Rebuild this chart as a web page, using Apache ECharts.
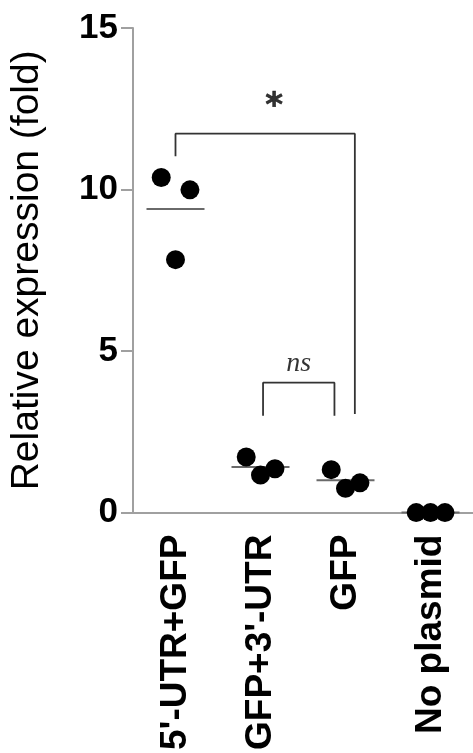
<!DOCTYPE html>
<html>
<head>
<meta charset="utf-8">
<script src="https://cdn.jsdelivr.net/npm/echarts@6/dist/echarts.min.js"></script>
<style>
  html, body { margin: 0; padding: 0; background: #fff; }
  #chart { width: 473px; height: 753px; }
</style>
</head>
<body>
<div id="chart"></div>
<script>
// Groups on the x axis
const categories = ["5'-UTR+GFP", "GFP+3'-UTR", "GFP", "No plasmid"];

// Replicate measurements per group (left, middle, right dot)
const utr5Gfp   = [10.37, 7.83, 9.99];
const gfpUtr3   = [1.72, 1.16, 1.36];
const gfpOnly   = [1.33, 0.75, 0.92];
const noPlasmid = [0.0, 0.0, 0.0];
const groupValues = [utr5Gfp, gfpUtr3, gfpOnly, noPlasmid];

// Y axis ticks
const yTicks = [0, 5, 10, 15];

// Horizontal spread of the replicate dots inside each group
const dotSpread = [-0.168, 0, 0.17];

// Significance brackets
const brackets = [
  { from: 0, to: 2.11, top: 11.73, footL: 11.03, footR: 3.05, text: '*', tx: 1.16, ty: 12.55 },
  { from: 1.03, to: 1.87, top: 4.02, footL: 3.0, footR: 3.0, text: 'ns', tx: 1.45, ty: 4.62 }
];

const FONT = "'Liberation Sans', Arial, Helvetica, sans-serif";

const dots = [];
const means = [];
groupValues.forEach((vals, g) => {
  vals.forEach((v, i) => dots.push([g + dotSpread[i], v]));
  const m = vals.reduce((a, b) => a + b, 0) / vals.length;
  means.push([g, m]);
});

const series = [];

brackets.forEach(b => {
  series.push({
    type: 'line',
    xAxisIndex: 1,
    yAxisIndex: 0,
    symbol: 'none',
    silent: true,
    lineStyle: { color: '#333', width: 1.8 },
    data: [[b.from, b.footL], [b.from, b.top], [b.to, b.top], [b.to, b.footR]],
    z: 3
  });
});

// group means
series.push({
  type: 'scatter',
  xAxisIndex: 1,
  yAxisIndex: 0,
  symbol: 'rect',
  symbolSize: [58, 2],
  itemStyle: { color: '#6a6a6a', opacity: 1 },
  data: means,
  silent: true,
  z: 4
});

// replicate dots
series.push({
  type: 'scatter',
  xAxisIndex: 1,
  yAxisIndex: 0,
  symbol: 'circle',
  symbolSize: 19,
  itemStyle: { color: '#000', opacity: 1 },
  data: dots,
  silent: true,
  z: 5
});

// significance marks
series.push({
  type: 'scatter',
  xAxisIndex: 1,
  yAxisIndex: 0,
  symbolSize: 0,
  silent: true,
  data: brackets.map(b => ({
    value: [b.tx, b.ty],
    name: b.text,
    label: b.text === '*'
      ? { fontFamily: "'DejaVu Sans', " + FONT, fontWeight: 'bold', fontSize: 34, textBorderColor: '#000', textBorderWidth: 0.6 }
      : { fontFamily: "'Liberation Serif', 'Times New Roman', serif", fontStyle: 'italic', fontSize: 28 }
  })),
  label: {
    show: true,
    position: 'inside',
    formatter: p => p.name,
    color: '#000'
  },
  z: 6
});

const chart = echarts.init(document.getElementById('chart'), null, { renderer: 'canvas' });

chart.setOption({
  animation: false,
  backgroundColor: '#fff',
  grid: { left: 132, top: 28, right: -10, bottom: 237, containLabel: false },
  xAxis: [
    {
      type: 'category',
      data: categories,
      boundaryGap: true,
      axisLine: { onZero: false, lineStyle: { color: '#a0a0a0', width: 2 } },
      axisTick: { alignWithLabel: true, length: 12, lineStyle: { color: '#a0a0a0', width: 2 } },
      axisLabel: {
        rotate: 90,
        margin: 22,
        interval: 0,
        fontFamily: FONT,
        fontWeight: 'bold',
        fontSize: 37,
        color: '#000'
      },
      splitLine: { show: false }
    },
    {
      type: 'value',
      min: -0.5,
      max: 3.5,
      show: false
    }
  ],
  yAxis: {
    type: 'value',
    min: yTicks[0],
    max: yTicks[yTicks.length - 1],
    interval: yTicks[1] - yTicks[0],
    name: 'Relative expression (fold)',
    nameLocation: 'middle',
    nameGap: 86,
    nameTextStyle: { fontFamily: FONT, fontSize: 39, color: '#000' },
    axisLine: { show: true, onZero: false, lineStyle: { color: '#a0a0a0', width: 2 } },
    axisTick: { show: true, length: 12, lineStyle: { color: '#a0a0a0', width: 2 } },
    axisLabel: {
      margin: 15,
      fontFamily: FONT,
      fontWeight: 'bold',
      fontSize: 35,
      color: '#000'
    },
    splitLine: { show: false }
  },
  series: series
});
</script>
</body>
</html>
